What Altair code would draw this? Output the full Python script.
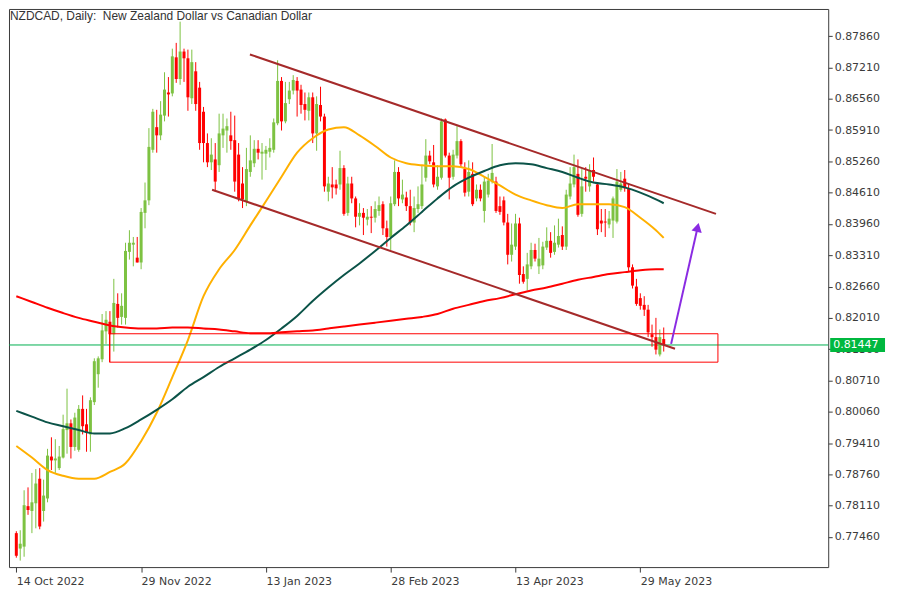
import altair as alt
import pandas as pd

# ---------------- text / ticks ----------------
title_text = "NZDCAD, Daily:\u00a0 New Zealand Dollar vs Canadian Dollar"
date_ticks = [0, 32, 64, 96, 128, 160]
date_labels = ["14 Oct 2022", "29 Nov 2022", "13 Jan 2023", "28 Feb 2023", "13 Apr 2023", "29 May 2023"]
price_ticks = [0.77460, 0.78110, 0.78760, 0.79410, 0.80060, 0.80710, 0.81360, 0.82010,
               0.82660, 0.83310, 0.83960, 0.84610, 0.85260, 0.85910, 0.86560, 0.87210, 0.87860]
last_price = 0.81447
last_label = "0.81447"

# ---------------- daily candles (bar index 0..166) ----------------
opens = [0.7754, 0.7722, 0.7726, 0.7810, 0.7800, 0.7816, 0.7867, 0.7800, 0.7826, 0.7913,
         0.7905, 0.7889, 0.7911, 0.7968, 0.7982, 0.7933, 0.7927, 0.8012, 0.7980, 0.7959,
         0.8026, 0.8084, 0.8115, 0.8173, 0.8193, 0.8167, 0.8230, 0.8203, 0.8201, 0.8338,
         0.8353, 0.8326, 0.8316, 0.8419, 0.8445, 0.8550, 0.8597, 0.8580, 0.8621, 0.8669,
         0.8667, 0.8742, 0.8697, 0.8754, 0.8740, 0.8657, 0.8713, 0.8679, 0.8629, 0.8564,
         0.8524, 0.8530, 0.8518, 0.8580, 0.8590, 0.8580, 0.8570, 0.8540, 0.8480, 0.8443,
         0.8504, 0.8522, 0.8552, 0.8542, 0.8542, 0.8546, 0.8550, 0.8605, 0.8693, 0.8609,
         0.8655, 0.8673, 0.8693, 0.8675, 0.8645, 0.8631, 0.8659, 0.8584, 0.8643, 0.8619,
         0.8463, 0.8478, 0.8478, 0.8478, 0.8512, 0.8419, 0.8480, 0.8449, 0.8411, 0.8419,
         0.8405, 0.8411, 0.8409, 0.8423, 0.8437, 0.8387, 0.8369, 0.8437, 0.8504, 0.8447,
         0.8451, 0.8433, 0.8399, 0.8427, 0.8433, 0.8492, 0.8538, 0.8524, 0.8474, 0.8492,
         0.8613, 0.8538, 0.8494, 0.8538, 0.8568, 0.8510, 0.8463, 0.8500, 0.8449, 0.8467,
         0.8423, 0.8457, 0.8484, 0.8484, 0.8433, 0.8445, 0.8399, 0.8332, 0.8349, 0.8397,
         0.8292, 0.8282, 0.8308, 0.8342, 0.8308, 0.8310, 0.8347, 0.8361, 0.8338, 0.8353,
         0.8373, 0.8349, 0.8453, 0.8478, 0.8500, 0.8417, 0.8494, 0.8474, 0.8508, 0.8478,
         0.8403, 0.8401, 0.8395, 0.8403, 0.8401, 0.8467, 0.8490, 0.8470, 0.8306, 0.8266,
         0.8242, 0.8228, 0.8218, 0.8167, 0.8161, 0.8125, 0.8157]
highs = [0.7758, 0.7760, 0.7843, 0.7849, 0.7879, 0.7887, 0.7889, 0.7865, 0.7929, 0.7953,
         0.7949, 0.7935, 0.8000, 0.8054, 0.7990, 0.8004, 0.8020, 0.8040, 0.8012, 0.8036,
         0.8117, 0.8121, 0.8209, 0.8215, 0.8215, 0.8282, 0.8252, 0.8252, 0.8357, 0.8383,
         0.8369, 0.8369, 0.8429, 0.8482, 0.8595, 0.8635, 0.8633, 0.8651, 0.8711, 0.8701,
         0.8760, 0.8772, 0.8816, 0.8760, 0.8758, 0.8758, 0.8732, 0.8691, 0.8639, 0.8584,
         0.8574, 0.8564, 0.8625, 0.8625, 0.8615, 0.8629, 0.8621, 0.8564, 0.8514, 0.8554,
         0.8580, 0.8570, 0.8570, 0.8564, 0.8558, 0.8574, 0.8615, 0.8736, 0.8701, 0.8691,
         0.8691, 0.8705, 0.8701, 0.8685, 0.8669, 0.8669, 0.8669, 0.8661, 0.8681, 0.8625,
         0.8494, 0.8514, 0.8488, 0.8548, 0.8518, 0.8494, 0.8494, 0.8453, 0.8439, 0.8429,
         0.8427, 0.8433, 0.8443, 0.8453, 0.8443, 0.8403, 0.8453, 0.8528, 0.8514, 0.8488,
         0.8463, 0.8467, 0.8453, 0.8474, 0.8518, 0.8572, 0.8548, 0.8560, 0.8518, 0.8615,
         0.8615, 0.8544, 0.8550, 0.8599, 0.8572, 0.8524, 0.8528, 0.8524, 0.8478, 0.8478,
         0.8494, 0.8500, 0.8562, 0.8494, 0.8453, 0.8453, 0.8417, 0.8397, 0.8417, 0.8409,
         0.8308, 0.8336, 0.8357, 0.8355, 0.8367, 0.8359, 0.8389, 0.8379, 0.8393, 0.8407,
         0.8391, 0.8467, 0.8514, 0.8540, 0.8530, 0.8510, 0.8514, 0.8520, 0.8534, 0.8480,
         0.8427, 0.8427, 0.8423, 0.8453, 0.8510, 0.8504, 0.8508, 0.8480, 0.8312, 0.8282,
         0.8252, 0.8246, 0.8228, 0.8187, 0.8201, 0.8177, 0.8181]
lows = [0.7703, 0.7697, 0.7705, 0.7792, 0.7754, 0.7764, 0.7762, 0.7778, 0.7818, 0.7885,
        0.7879, 0.7885, 0.7909, 0.7919, 0.7909, 0.7925, 0.7923, 0.7959, 0.7923, 0.7923,
        0.8020, 0.8056, 0.8109, 0.8147, 0.8109, 0.8131, 0.8181, 0.8187, 0.8187, 0.8322,
        0.8308, 0.8316, 0.8302, 0.8387, 0.8435, 0.8544, 0.8544, 0.8570, 0.8609, 0.8619,
        0.8661, 0.8689, 0.8685, 0.8691, 0.8631, 0.8645, 0.8631, 0.8550, 0.8524, 0.8514,
        0.8508, 0.8463, 0.8504, 0.8554, 0.8544, 0.8550, 0.8463, 0.8443, 0.8429, 0.8433,
        0.8494, 0.8514, 0.8530, 0.8488, 0.8508, 0.8534, 0.8544, 0.8601, 0.8590, 0.8605,
        0.8645, 0.8665, 0.8619, 0.8625, 0.8611, 0.8611, 0.8564, 0.8548, 0.8609, 0.8463,
        0.8443, 0.8449, 0.8457, 0.8467, 0.8413, 0.8413, 0.8439, 0.8389, 0.8393, 0.8373,
        0.8393, 0.8377, 0.8399, 0.8413, 0.8373, 0.8349, 0.8342, 0.8433, 0.8433, 0.8439,
        0.8423, 0.8393, 0.8379, 0.8419, 0.8427, 0.8484, 0.8520, 0.8472, 0.8467, 0.8488,
        0.8534, 0.8447, 0.8488, 0.8532, 0.8514, 0.8453, 0.8453, 0.8433, 0.8443, 0.8443,
        0.8399, 0.8451, 0.8480, 0.8419, 0.8415, 0.8393, 0.8312, 0.8318, 0.8342, 0.8272,
        0.8272, 0.8258, 0.8302, 0.8318, 0.8292, 0.8302, 0.8342, 0.8326, 0.8332, 0.8347,
        0.8342, 0.8342, 0.8447, 0.8472, 0.8411, 0.8411, 0.8463, 0.8463, 0.8484, 0.8373,
        0.8379, 0.8369, 0.8387, 0.8367, 0.8397, 0.8463, 0.8463, 0.8298, 0.8262, 0.8226,
        0.8218, 0.8205, 0.8161, 0.8141, 0.8125, 0.8121, 0.8131]
closes = [0.7707, 0.7732, 0.7812, 0.7802, 0.7818, 0.7857, 0.7768, 0.7832, 0.7915, 0.7905,
          0.7909, 0.7913, 0.7970, 0.7982, 0.7933, 0.7994, 0.8012, 0.7976, 0.7963, 0.8030,
          0.8111, 0.8117, 0.8175, 0.8197, 0.8167, 0.8232, 0.8201, 0.8226, 0.8340, 0.8357,
          0.8357, 0.8316, 0.8421, 0.8445, 0.8556, 0.8629, 0.8580, 0.8623, 0.8675, 0.8665,
          0.8744, 0.8697, 0.8754, 0.8740, 0.8659, 0.8732, 0.8645, 0.8564, 0.8564, 0.8524,
          0.8540, 0.8484, 0.8584, 0.8594, 0.8599, 0.8568, 0.8484, 0.8449, 0.8447, 0.8510,
          0.8528, 0.8552, 0.8544, 0.8546, 0.8550, 0.8554, 0.8607, 0.8693, 0.8609, 0.8647,
          0.8673, 0.8695, 0.8673, 0.8643, 0.8633, 0.8659, 0.8584, 0.8645, 0.8619, 0.8474,
          0.8480, 0.8472, 0.8470, 0.8512, 0.8417, 0.8480, 0.8449, 0.8411, 0.8419, 0.8409,
          0.8411, 0.8409, 0.8427, 0.8435, 0.8387, 0.8369, 0.8439, 0.8504, 0.8449, 0.8457,
          0.8433, 0.8399, 0.8429, 0.8437, 0.8478, 0.8538, 0.8526, 0.8478, 0.8494, 0.8609,
          0.8538, 0.8492, 0.8540, 0.8568, 0.8520, 0.8461, 0.8504, 0.8437, 0.8467, 0.8449,
          0.8484, 0.8486, 0.8502, 0.8423, 0.8421, 0.8399, 0.8332, 0.8353, 0.8397, 0.8290,
          0.8276, 0.8312, 0.8342, 0.8324, 0.8324, 0.8349, 0.8361, 0.8336, 0.8357, 0.8371,
          0.8349, 0.8457, 0.8480, 0.8514, 0.8415, 0.8474, 0.8490, 0.8508, 0.8494, 0.8385,
          0.8397, 0.8399, 0.8407, 0.8449, 0.8484, 0.8480, 0.8470, 0.8306, 0.8268, 0.8230,
          0.8226, 0.8218, 0.8171, 0.8161, 0.8135, 0.8161, 0.81447]

# ---------------- moving averages (sampled every 4 bars) ----------------
ma_index = [0, 4, 8, 12, 16, 20, 24, 28, 32, 36, 40, 44, 48, 52, 56, 60, 64, 68, 72, 76, 80,
            84, 88, 92, 96, 100, 104, 108, 112, 116, 120, 124, 128, 132, 136, 140, 144, 148,
            152, 156, 160, 164, 166]
ma_orange = [0.7935, 0.7911, 0.7885, 0.7873, 0.7867, 0.7867, 0.7881, 0.7899, 0.7945, 0.8004,
             0.8078, 0.8155, 0.8246, 0.8302, 0.8342, 0.8393, 0.8443, 0.8494, 0.8544, 0.8574,
             0.8592, 0.8597, 0.8580, 0.8558, 0.8534, 0.8522, 0.8518, 0.8516, 0.8516, 0.8510,
             0.8494, 0.8476, 0.8457, 0.8445, 0.8435, 0.8429, 0.8437, 0.8437, 0.8437, 0.8431,
             0.8409, 0.8383, 0.8367]
ma_teal = [0.8008, 0.7996, 0.7984, 0.7976, 0.7968, 0.7961, 0.7961, 0.7972, 0.7990, 0.8010,
           0.8032, 0.8058, 0.8078, 0.8099, 0.8117, 0.8135, 0.8155, 0.8179, 0.8205, 0.8236,
           0.8264, 0.8290, 0.8314, 0.8340, 0.8367, 0.8393, 0.8421, 0.8449, 0.8474, 0.8492,
           0.8506, 0.8518, 0.8522, 0.8520, 0.8512, 0.8504, 0.8492, 0.8482, 0.8478, 0.8472,
           0.8461, 0.8447, 0.8439]
ma_red = [0.8246, 0.8234, 0.8222, 0.8211, 0.8201, 0.8193, 0.8185, 0.8181, 0.8179, 0.8179,
          0.8181, 0.8181, 0.8179, 0.8177, 0.8173, 0.8169, 0.8169, 0.8171, 0.8173, 0.8175,
          0.8179, 0.8183, 0.8187, 0.8191, 0.8195, 0.8199, 0.8203, 0.8209, 0.8220, 0.8228,
          0.8236, 0.8242, 0.8250, 0.8258, 0.8264, 0.8272, 0.8280, 0.8286, 0.8292, 0.8296,
          0.8300, 0.8302, 0.8302]

# ---------------- drawn objects (bar index / price) ----------------
channel_x1 = [59.9, 50.2]
channel_p1 = [0.8748, 0.8467]
channel_x2 = [179.4, 168.9]
channel_p2 = [0.8417, 0.8137]
zone_x = [23.9]
zone_x2 = [179.9]
zone_top = [0.8168]
zone_bottom = [0.8109]
arrow_x = [167.9]
arrow_p = [0.8147]
arrow_x2 = [174.7]
arrow_p2 = [0.8389]

# ---------------- layout ----------------
W, H = 822, 560
XDOM = [-0.6, 206.9]
YDOM = [0.76835, 0.88424]
AX_COL = "#3b3b3b"
FONT = "DejaVu Sans"

n = len(closes)
candles = pd.DataFrame({"i": list(range(n)), "open": opens, "high": highs,
                        "low": lows, "close": closes})
candles["dir"] = ["up" if c >= o else "down" for o, c in zip(opens, closes)]

ma_df = pd.DataFrame({"i": ma_index * 3,
                      "ma": ma_orange + ma_teal + ma_red,
                      "name": ["fast"] * len(ma_index) + ["mid"] * len(ma_index) + ["slow"] * len(ma_index)})
chan_df = pd.DataFrame({"x1": channel_x1, "p1": channel_p1, "x2": channel_x2, "p2": channel_p2})
zone_df = pd.DataFrame({"x1": zone_x, "x2": zone_x2, "p1": zone_top, "p2": zone_bottom})
arrow_df = pd.DataFrame({"x1": arrow_x, "p1": arrow_p, "x2": arrow_x2, "p2": arrow_p2})
last_df = pd.DataFrame({"p": [last_price], "label": [last_label]})
title_df = pd.DataFrame({"t": [title_text]})

xscale = alt.Scale(domain=XDOM, nice=False, zero=False)
yscale = alt.Scale(domain=YDOM, nice=False, zero=False)
label_js = "[" + ",".join("'%s'" % s for s in date_labels) + "]"
tick_js = "[" + ",".join(str(t) for t in date_ticks) + "]"
xaxis = alt.Axis(values=date_ticks, labelExpr=f"{label_js}[indexof({tick_js}, datum.value)]",
                 orient="bottom", domain=False, grid=False, tickSize=5, tickColor=AX_COL,
                 labelAlign="left", labelPadding=3, labelFlush=False, labelOverlap=False,
                 labelFont=FONT, labelFontSize=11, labelColor=AX_COL, title=None)
yaxis = alt.Axis(values=price_ticks, format=".5f", orient="right", domain=False, grid=False,
                 tickSize=4, tickColor=AX_COL, labelPadding=2, labelOverlap=False,
                 labelFont=FONT, labelFontSize=11, labelColor=AX_COL, title=None)


def X(f):
    return alt.X(f, type="quantitative", scale=xscale, axis=xaxis)


def Y(f):
    return alt.Y(f, type="quantitative", scale=yscale, axis=yaxis)


cdir = alt.Color("dir:N", scale=alt.Scale(domain=["up", "down"], range=["#7dc242", "#ff0000"]),
                 legend=None)

base = alt.Chart(candles)
price_line = alt.Chart(last_df).mark_rule(color="#00b050", strokeWidth=1).encode(y=Y("p"))
wicks = base.mark_rule(strokeWidth=1).encode(x=X("i"), y=Y("low"), y2="high", color=cdir)
bodies = base.mark_bar(size=3).encode(x=X("i"), y=Y("open"), y2="close", color=cdir)
mas = alt.Chart(ma_df).mark_line(strokeWidth=2, interpolate="monotone").encode(
    x=X("i"), y=Y("ma"),
    color=alt.Color("name:N", scale=alt.Scale(domain=["fast", "mid", "slow"],
                                              range=["#ffb000", "#0b5348", "#ff0000"]),
                    legend=None))
channels = alt.Chart(chan_df).mark_rule(color="#a52a2a", strokeWidth=2).encode(
    x=X("x1"), x2="x2", y=Y("p1"), y2="p2")
zone = alt.Chart(zone_df).mark_rect(fillOpacity=0, stroke="#ff0000", strokeWidth=1).encode(
    x=X("x1"), x2="x2", y=Y("p1"), y2="p2")
arrow_line = alt.Chart(arrow_df).mark_rule(color="#8a2be2", strokeWidth=2).encode(
    x=X("x1"), x2="x2", y=Y("p1"), y2="p2")
arrow_head = alt.Chart(arrow_df).mark_point(shape="triangle-up", filled=True, color="#8a2be2",
                                            size=110, angle=13, opacity=1).encode(
    x=X("x2"), y=Y("p2"))
last_box = alt.Chart(last_df).mark_rule(color="#00b83f", strokeWidth=14, strokeCap="butt").encode(
    x=alt.value(W + 2), x2=alt.value(W + 57), y=Y("p"))
last_text = alt.Chart(last_df).mark_text(align="left", baseline="middle", color="white",
                                         font=FONT, fontSize=11).encode(
    x=alt.value(W + 5), y=Y("p"), text="label:N")
title = alt.Chart(title_df).mark_text(align="left", baseline="top", color="#333333",
                                      font="Liberation Sans", fontSize=12).encode(
    x=alt.value(1), y=alt.value(2), text="t:N")

chart = alt.layer(price_line, wicks, bodies, mas, channels, zone, arrow_line, arrow_head,
                  last_box, last_text, title).resolve_scale(color="independent").properties(
    width=W, height=H, padding={"left": 0, "top": 0, "right": 0, "bottom": 0},
    background="white"
).configure_view(stroke=AX_COL, strokeWidth=1)

chart.save("out.html", embed_options={"renderer": "svg", "actions": False})
